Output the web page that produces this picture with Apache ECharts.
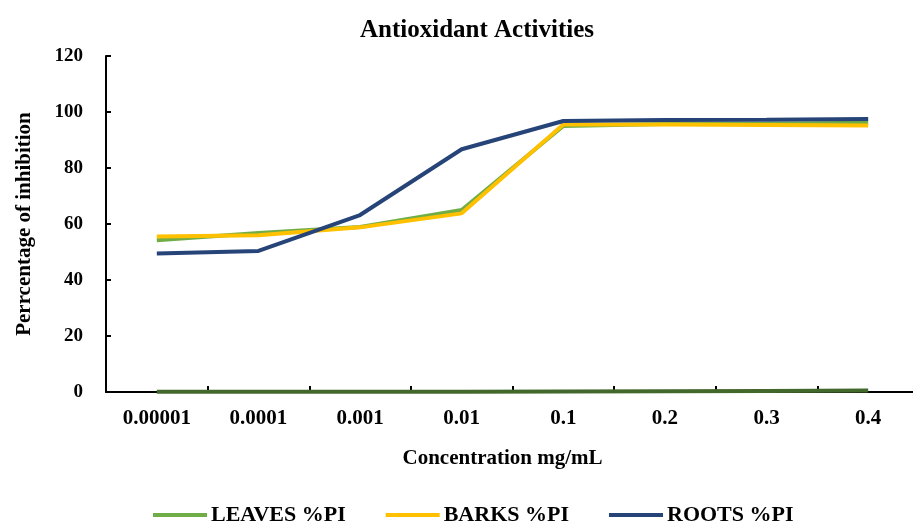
<!DOCTYPE html>
<html><head><meta charset="utf-8">
<script src="https://cdn.jsdelivr.net/npm/echarts@6/dist/echarts.min.js"></script>
<style>html,body{margin:0;padding:0;background:#fff}#c{width:913px;height:523px}</style>
</head><body><div id="c"></div>
<script>
const categories = ['0.00001','0.0001','0.001','0.01','0.1','0.2','0.3','0.4'];
const leaves = [54.2, 56.8, 58.9, 65.0, 95.0, 95.7, 95.8, 96.2];
const barks  = [55.5, 56.0, 58.8, 63.8, 95.5, 95.5, 95.4, 95.2];
const roots  = [49.5, 50.4, 63.2, 86.7, 96.8, 97.1, 97.2, 97.5];
const baseline = [0.1, 0.1, 0.1, 0.1, 0.2, 0.3, 0.4, 0.5];
const yTicks = [0, 20, 40, 60, 80, 100, 120];

const FONT = '"Liberation Serif", "Times New Roman", serif';
const chart = echarts.init(document.getElementById('c'), null, {renderer:'canvas'});
const mk = (name, data, color, z) => ({
  name, type:'line', data, symbol:'none', smooth:false, z,
  lineStyle:{color, width:4}, itemStyle:{color}
});
chart.setOption({
  animation:false,
  backgroundColor:'#fff',
  title:{text:'Antioxidant Activities', left:355, top:13,
    textStyle:{fontFamily:FONT, fontWeight:'bold', fontSize:25, color:'#000'}},
  grid:{left:106, top:56, width:813, height:336, containLabel:false, outerBoundsMode:'none'},
  legend:{data:[
      {name:'LEAVES %PI', icon:'rect'},
      {name:'BARKS %PI', icon:'rect'},
      {name:'ROOTS %PI', icon:'rect'}],
    left:148, top:499, itemWidth:54, itemHeight:4, itemGap:40,
    textStyle:{fontFamily:FONT, fontWeight:'bold', fontSize:22, color:'#000', padding:[0,0,0,-1]}},
  xAxis:{type:'category', data:categories, boundaryGap:true,
    name:'Concentration mg/mL', nameLocation:'middle', nameGap:56,
    nameTextStyle:{fontFamily:FONT, fontWeight:'bold', fontSize:21, color:'#000', padding:[0,20,0,0]},
    axisLine:{lineStyle:{color:'#000', width:2}},
    axisTick:{show:true, inside:true, length:6, lineStyle:{color:'#000', width:2}},
    axisLabel:{fontFamily:FONT, fontWeight:'bold', fontSize:21, color:'#000', margin:16},
    splitLine:{show:false}},
  yAxis:{type:'value', min:yTicks[0], max:yTicks[yTicks.length-1], interval:20,
    name:'Perrcentage of inhibition', nameLocation:'middle', nameGap:71, nameRotate:90,
    nameTextStyle:{fontFamily:FONT, fontWeight:'bold', fontSize:21, color:'#000'},
    axisLine:{show:true, lineStyle:{color:'#000', width:2}},
    axisTick:{show:true, inside:true, length:5, lineStyle:{color:'#000', width:2}},
    axisLabel:{fontFamily:FONT, fontWeight:'bold', fontSize:19, color:'#000', margin:23},
    splitLine:{show:false}},
  series:[
    mk('LEAVES %PI', leaves, '#70AD47', 3),
    mk('BARKS %PI', barks, '#FFC000', 4),
    mk('ROOTS %PI', roots, '#264478', 5),
    {name:'baseline', type:'line', data:baseline, symbol:'none', z:6,
      lineStyle:{color:'#43682B', width:4}, itemStyle:{color:'#43682B'}}
  ]
});
</script></body></html>
